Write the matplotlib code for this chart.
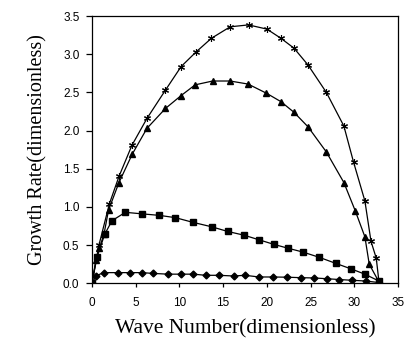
import matplotlib
matplotlib.use("Agg")
import matplotlib.pyplot as plt

# Data
x_star = [0, 0.8, 1.99, 3.09, 4.58, 6.29, 8.4, 10.2, 11.9, 13.66, 15.8, 17.9, 20.0,
          21.6, 23.1, 24.7, 26.8, 28.8, 29.9, 31.2, 31.9, 32.5, 32.8]
y_star = [0, 0.50, 1.04, 1.40, 1.81, 2.16, 2.53, 2.84, 3.03, 3.21, 3.36, 3.385, 3.33,
          3.21, 3.08, 2.86, 2.50, 2.06, 1.59, 1.08, 0.55, 0.33, 0.03]

x_tri = [0, 0.45, 0.84, 1.37, 1.9, 3.09, 4.6, 6.29, 8.4, 10.2, 11.8, 13.8, 15.8, 17.85,
         19.95, 21.6, 23.1, 24.7, 26.8, 28.8, 30.1, 31.2, 31.7, 32.8]
y_tri = [0, 0.30, 0.46, 0.64, 0.96, 1.32, 1.69, 2.03, 2.29, 2.46, 2.60, 2.65, 2.65, 2.61,
         2.49, 2.38, 2.24, 2.05, 1.72, 1.32, 0.95, 0.61, 0.25, 0.02]

x_sq = [0, 0.57, 1.45, 2.29, 3.82, 5.72, 7.71, 9.54, 11.5, 13.7, 15.5, 17.4, 19.1, 20.8,
        22.4, 24.1, 26.0, 27.9, 29.6, 31.2, 32.8]
y_sq = [0, 0.34, 0.64, 0.82, 0.93, 0.91, 0.89, 0.86, 0.80, 0.74, 0.68, 0.63, 0.57, 0.51,
        0.46, 0.41, 0.34, 0.26, 0.19, 0.12, 0.03]

x_dia = [0, 0.5, 1.34, 2.97, 4.39, 5.72, 6.94, 8.7, 10.2, 11.6, 13.0, 14.5, 16.2, 17.5,
         19.1, 20.7, 22.3, 23.9, 25.4, 26.9, 28.2, 29.7, 31.3, 32.8]
y_dia = [0, 0.10, 0.14, 0.14, 0.14, 0.14, 0.13, 0.12, 0.12, 0.12, 0.105, 0.105, 0.096, 0.105,
         0.083, 0.083, 0.08, 0.074, 0.07, 0.06, 0.05, 0.04, 0.03, 0.01]

x_ticks = [0, 5, 10, 15, 20, 25, 30, 35]
y_ticks = [0.0, 0.5, 1.0, 1.5, 2.0, 2.5, 3.0, 3.5]

fig = plt.figure(figsize=(4.05, 3.43), dpi=100)
ax = fig.add_axes([0.227, 0.174, 0.756, 0.779])

lw = 0.9
ax.plot(x_star, y_star, color='black', lw=lw, marker=(6, 2, 0), ms=5, mew=0.8, mec='black')
ax.plot(x_tri, y_tri, color='black', lw=lw, marker='^', ms=4.5, mfc='black', mec='black')
ax.plot(x_sq, y_sq, color='black', lw=lw, marker='s', ms=4, mfc='black', mec='black')
ax.plot(x_dia, y_dia, color='black', lw=lw, marker='D', ms=3.5, mfc='black', mec='black')

ax.set_xlim(0, 35)
ax.set_ylim(0, 3.5)
ax.set_xticks(x_ticks)
ax.set_xticklabels([str(v) for v in x_ticks])
ax.set_yticks(y_ticks)
ax.set_yticklabels([f"{v:.1f}" for v in y_ticks])

for s in ax.spines.values():
    s.set_color('black')
    s.set_linewidth(0.9)
ax.tick_params(direction='out', width=0.9, colors='black', labelsize=8.5)
ax.tick_params(axis='y', length=4, pad=5)
ax.tick_params(axis='x', length=3, pad=7)
for lab in ax.get_xticklabels() + ax.get_yticklabels():
    lab.set_fontfamily('Liberation Sans')

ax.set_xlabel('Wave Number(dimensionless)', family='Liberation Serif', fontsize=15.5)
ax.set_ylabel('Growth Rate(dimensionless)', family='Liberation Serif', fontsize=14.5)
ax.xaxis.set_label_coords(0.5, -0.135)
ax.yaxis.set_label_coords(-0.145, 0.5)

fig.savefig('out.png', dpi=100)
